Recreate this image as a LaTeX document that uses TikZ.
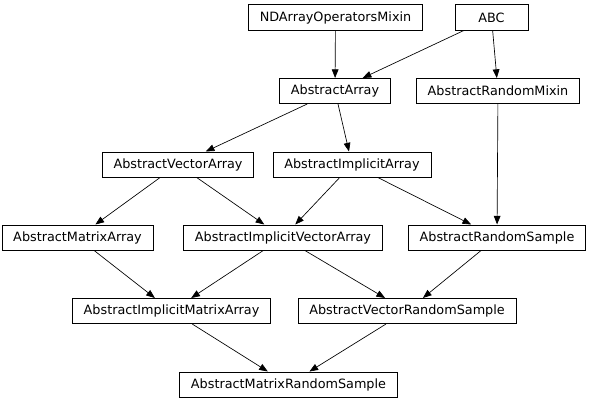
\documentclass[tikz,border=0pt]{standalone}
\usepackage{fontspec}
\setmainfont{DejaVu Sans}
\usepackage{xcolor}
\usepackage{tikz}
\usetikzlibrary{arrows.meta, positioning}

\begin{document}
\begin{tikzpicture}[x=0.75pt, y=-0.75pt]
\tikzstyle{clsbox} = [rectangle, draw=black, line width=0.5pt, fill=white, font=\fontsize{9.6}{11}\selectfont, inner xsep=8.5pt, minimum width=54.75pt, minimum height=19pt]
\tikzstyle{inherit} = [draw=black, line width=0.5pt, -{Triangle[length=6.5pt, width=5pt]}]

\useasboundingbox (0,0) rectangle (593,403);

% top row
\node (ndmix) [clsbox] at (335.5,17.5) {NDArrayOperatorsMixin};
\node (abc) [clsbox] at (491.5,17.5) {ABC};

\node (array) [clsbox] at (335,91) {AbstractArray};
\node (randmix) [clsbox] at (498,91) {AbstractRandomMixin};

\node (vecarr) [clsbox] at (178,164.5) {AbstractVectorArray};
\node (implarr) [clsbox] at (352,164.5) {AbstractImplicitArray};

\node (matarr) [clsbox] at (77.5,237.5) {AbstractMatrixArray};
\node (implvec) [clsbox] at (283,237.5) {AbstractImplicitVectorArray};
\node (randsamp) [clsbox] at (497,237.5) {AbstractRandomSample};

\node (implmat) [clsbox] at (171.5,311) {AbstractImplicitMatrixArray};
\node (vecrand) [clsbox] at (407,311) {AbstractVectorRandomSample};

% bottom
\node (matrand) [clsbox] at (288.5,384.5) {AbstractMatrixRandomSample};

\draw [inherit] (ndmix) -- (array);
\draw [inherit] (abc) -- (array);
\draw [inherit] (abc) -- (randmix);
\draw [inherit] (array) -- (vecarr);
\draw [inherit] (array) -- (implarr);
\draw [inherit] (vecarr) -- (matarr);
\draw [inherit] (vecarr) -- (implvec);
\draw [inherit] (implarr) -- (implvec);
\draw [inherit] (implarr) -- (randsamp);
\draw [inherit] (randmix) -- (randsamp);
\draw [inherit] (matarr) -- (implmat);
\draw [inherit] (implvec) -- (implmat);
\draw [inherit] (implvec) -- (vecrand);
\draw [inherit] (randsamp) -- (vecrand);
\draw [inherit] (implmat) -- (matrand);
\draw [inherit] (vecrand) -- (matrand);

\end{tikzpicture}
\end{document}
